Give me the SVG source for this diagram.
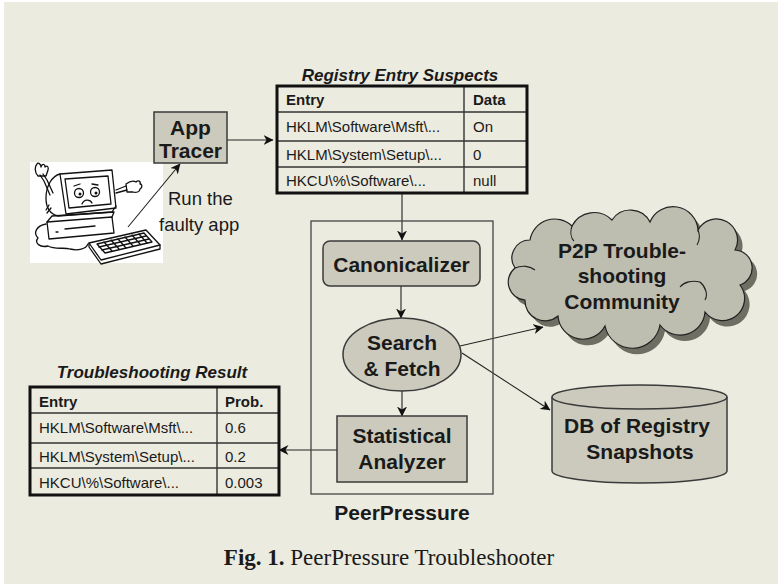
<svg xmlns="http://www.w3.org/2000/svg" width="778" height="584" viewBox="0 0 778 584">
  <defs>
    <marker id="arrow" viewBox="0 0 10 10" refX="9.5" refY="5" markerWidth="10" markerHeight="10" markerUnits="userSpaceOnUse" orient="auto">
      <path d="M0,0 L10,5 L0,10 L3,5 Z" fill="#111"/>
    </marker>
    <style>
      .box { fill: #cbcabd; stroke: #3a3a3a; stroke-width: 1.5; }
      .tbl { fill: none; stroke: #111; stroke-width: 3; }
      .grid { stroke: #333; stroke-width: 1.4; }
      .lbl { font-family: "Liberation Sans", Arial, sans-serif; font-weight: bold; font-size: 21px; fill: #1a1a1a; text-anchor: middle; }
      .cell { font-family: "Liberation Sans", Arial, sans-serif; font-size: 15px; fill: #1a1a1a; }
      .head { font-family: "Liberation Sans", Arial, sans-serif; font-size: 15px; font-weight: bold; fill: #1a1a1a; }
      .ttl { font-family: "Liberation Sans", Arial, sans-serif; font-size: 17px; font-weight: bold; font-style: italic; fill: #1a1a1a; text-anchor: middle; }
      .edge { fill: none; stroke: #222; stroke-width: 1.1; marker-end: url(#arrow); }
      .art { fill: none; stroke: #111; stroke-width: 1.3; stroke-linejoin: round; stroke-linecap: round; }
    </style>
  </defs>

  <!-- page -->
  <rect x="0" y="0" width="778" height="584" fill="#ffffff"/>
  <rect x="4" y="2" width="774" height="582" fill="#ecebdf"/>

  <!-- sad computer clip-art -->
  <g id="computer">
    <rect x="30" y="162" width="133" height="101" fill="#ffffff"/>
    <!-- puddle -->
    <path class="art" d="M46,224 C36,226 33,233 38,238 C34,243 40,248 48,246 C55,250 64,247 70,249 C78,251 86,249 88,244"/>
    <!-- base unit -->
    <path class="art" fill="#fff" d="M47,222 L112,217 L114,233 L49,239 Z"/>
    <path class="art" d="M47,222 L52,216 L114,212 L112,217"/>
    <path class="art" d="M65,229 L95,226"/>
    <path class="art" d="M56,232 L58,232"/>
    <!-- monitor body -->
    <path class="art" fill="#fff" d="M60,174 C52,176 46,186 46,198 C46,208 50,214 58,216 L112,212 L116,206"/>
    <path class="art" d="M49,205 L46,210 M51,208 L47,213"/>
    <!-- screen bezel and screen -->
    <path class="art" fill="#fff" d="M60,174 L112,170 L116,208 L66,214 Z"/>
    <path class="art" d="M65,179 L108,176 L111,204 L69,208 Z"/>
    <!-- face -->
    <circle class="art" cx="79" cy="193" r="4.5"/>
    <circle class="art" cx="95" cy="192" r="4.5"/>
    <circle cx="80" cy="194" r="1.5" fill="#111"/>
    <circle cx="96" cy="193" r="1.5" fill="#111"/>
    <path class="art" d="M82,204 C84,199 90,199 92,203"/>
    <path class="art" d="M74,186 L80,184 M92,184 L98,185"/>
    <!-- left arm and hand -->
    <path class="art" d="M50,195 L44,181 L40,175 M53,193 L47,180 L43,174"/>
    <path class="art" d="M38,176 C34,172 35,166 37,164 C38,162 41,164 41,167 C42,163 45,164 45,167 C47,165 49,167 48,170 L46,176 Z"/>
    <!-- right arm and hand -->
    <path class="art" d="M116,190 L126,186 M116,193 L127,190"/>
    <path class="art" d="M126,184 C130,181 133,180 136,182 C138,180 141,181 140,184 C142,184 143,187 140,189 C140,192 136,193 133,192 L127,192 Z"/>
    <!-- keyboard -->
    <path class="art" fill="#fff" d="M89,243 L146,230 L160,245 L101,260 Z"/>
    <path class="art" d="M89,243 L89,247 L101,264 L160,249 L160,245"/>
    <path class="art" d="M97,244 L144,233 L152,242 L105,253 Z"/>
    <path class="art" d="M99,247 L146,236 M102,250 L149,239"/>
    <path class="art" stroke-width="0.8" d="M104,242 L112,251 M111,240 L119,249 M118,239 L126,248 M125,237 L133,246 M132,235 L140,244 M139,234 L147,243"/>
  </g>

  <!-- connectors -->
  <g id="connectors">
    <line class="edge" x1="128" y1="227" x2="180" y2="164"/>
    <line class="edge" x1="227" y1="140" x2="273" y2="140"/>
    <line class="edge" x1="402" y1="193" x2="402" y2="240"/>
    <line class="edge" x1="401" y1="286" x2="401" y2="318"/>
    <line class="edge" x1="402" y1="391" x2="402" y2="416"/>
    <line class="edge" x1="337" y1="450" x2="279" y2="450"/>
    <line class="edge" x1="460" y1="346" x2="543" y2="327"/>
    <line class="edge" x1="462" y1="353" x2="550" y2="410"/>
  </g>

  <!-- run label -->
  <g id="run-label">
    <text class="cell" style="font-size:18.5px" x="168" y="205">Run the</text>
    <text class="cell" style="font-size:18.5px" x="159" y="231">faulty app</text>
  </g>

  <!-- App Tracer -->
  <g id="app-tracer">
    <rect class="box" x="154" y="112" width="73" height="51"/>
    <text class="lbl" x="190.5" y="135">App</text>
    <text class="lbl" x="190.5" y="158">Tracer</text>
  </g>

  <!-- Registry entry suspects -->
  <g id="suspects">
    <text class="ttl" x="400" y="81">Registry Entry Suspects</text>
    <rect x="277" y="86" width="250" height="107" fill="#ecebdf"/>
    <line class="grid" x1="277" y1="112" x2="527" y2="112"/>
    <line class="grid" x1="277" y1="141" x2="527" y2="141"/>
    <line class="grid" x1="277" y1="167" x2="527" y2="167"/>
    <line class="grid" x1="464" y1="86" x2="464" y2="193"/>
    <rect class="tbl" x="277" y="86" width="250" height="107"/>
    <text class="head" x="286" y="105">Entry</text>
    <text class="head" x="473" y="105">Data</text>
    <text class="cell" x="286" y="132">HKLM\Software\Msft\...</text>
    <text class="cell" x="473" y="132">On</text>
    <text class="cell" x="286" y="160">HKLM\System\Setup\...</text>
    <text class="cell" x="473" y="160">0</text>
    <text class="cell" x="286" y="186">HKCU\%\Software\...</text>
    <text class="cell" x="473" y="186">null</text>
  </g>

  <!-- PeerPressure container -->
  <g id="peerpressure">
    <rect x="311" y="221" width="182" height="273" fill="none" stroke="#444" stroke-width="1.3"/>
    <text class="lbl" x="402" y="520">PeerPressure</text>
  </g>

  <g id="canonicalizer">
    <rect class="box" x="323" y="241" width="157" height="45" rx="7"/>
    <text class="lbl" x="401.5" y="272">Canonicalizer</text>
  </g>

  <g id="search-fetch">
    <ellipse class="box" cx="402" cy="354.5" rx="59" ry="36.5"/>
    <text class="lbl" x="402" y="350">Search</text>
    <text class="lbl" x="402" y="376">&amp; Fetch</text>
  </g>

  <g id="statistical-analyzer">
    <rect class="box" x="337" y="416" width="130" height="66"/>
    <text class="lbl" x="402" y="443">Statistical</text>
    <text class="lbl" x="402" y="469">Analyzer</text>
  </g>

  <!-- Troubleshooting result -->
  <g id="result">
    <text class="ttl" x="152" y="378">Troubleshooting Result</text>
    <rect x="30" y="387" width="249" height="108" fill="#ecebdf"/>
    <line class="grid" x1="30" y1="413" x2="279" y2="413"/>
    <line class="grid" x1="30" y1="443" x2="279" y2="443"/>
    <line class="grid" x1="30" y1="468" x2="279" y2="468"/>
    <line class="grid" x1="217" y1="387" x2="217" y2="495"/>
    <rect class="tbl" x="30" y="387" width="249" height="108"/>
    <text class="head" x="39" y="407">Entry</text>
    <text class="head" x="225" y="407">Prob.</text>
    <text class="cell" x="39" y="433">HKLM\Software\Msft\...</text>
    <text class="cell" x="225" y="433">0.6</text>
    <text class="cell" x="39" y="462">HKLM\System\Setup\...</text>
    <text class="cell" x="225" y="462">0.2</text>
    <text class="cell" x="39" y="488">HKCU\%\Software\...</text>
    <text class="cell" x="225" y="488">0.003</text>
  </g>

  <!-- P2P community cloud -->
  <g id="p2p-cloud">
    <path transform="translate(5,6)" fill="#6e6e62" d="M515,268 A18,18 0 0 1 530,240 A25,25 0 0 1 572,226 A25,25 0 0 1 612,220 A22,22 0 0 1 650,222 A25,25 0 0 1 698,230 A20,20 0 0 1 735,250 A18,18 0 0 1 740,285 A22,22 0 0 1 705,312 A25,25 0 0 1 660,325 A28,28 0 0 1 605,326 A25,25 0 0 1 558,316 A20,20 0 0 1 525,300 A18,18 0 0 1 515,268 Z"/>
    <path fill="#bdbdb0" stroke="#222" stroke-width="1.2" d="M515,268 A18,18 0 0 1 530,240 A25,25 0 0 1 572,226 A25,25 0 0 1 612,220 A22,22 0 0 1 650,222 A25,25 0 0 1 698,230 A20,20 0 0 1 735,250 A18,18 0 0 1 740,285 A22,22 0 0 1 705,312 A25,25 0 0 1 660,325 A28,28 0 0 1 605,326 A25,25 0 0 1 558,316 A20,20 0 0 1 525,300 A18,18 0 0 1 515,268 Z"/>
    <path fill="none" stroke="#222" stroke-width="1.1" d="M515,268 C522,265 530,266 535,270 M700,282 C706,287 708,295 705,300 M700,282 C692,280 684,282 680,287 M572,226 C570,232 571,238 574,241 M698,230 C700,235 700,240 697,245"/>
    <text class="lbl" x="622" y="258">P2P Trouble-</text>
    <text class="lbl" x="622" y="283">shooting</text>
    <text class="lbl" x="622" y="309">Community</text>
  </g>

  <!-- snapshot database -->
  <g id="db-snapshots">
    <path class="box" d="M552,397 L552,471 A87.5,12 0 0 0 727,471 L727,397"/>
    <ellipse class="box" cx="639.5" cy="397" rx="87.5" ry="12"/>
    <text class="lbl" x="637" y="433">DB of Registry</text>
    <text class="lbl" x="640" y="459">Snapshots</text>
  </g>

  <!-- caption -->
  <text x="389" y="565" text-anchor="middle" font-family="'Liberation Serif', 'Times New Roman', serif" font-size="23" fill="#1a1a1a"><tspan font-weight="bold">Fig. 1.</tspan> PeerPressure Troubleshooter</text>
</svg>
